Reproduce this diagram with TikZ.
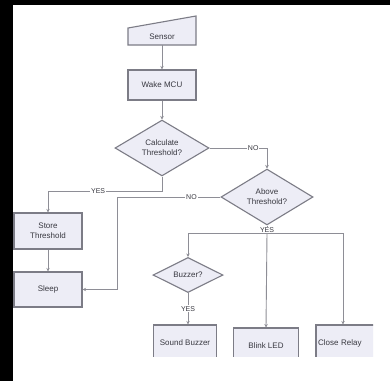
\documentclass[tikz,border=0pt]{standalone}
\usepackage{fontspec}
\setmainfont{Liberation Sans}
\usetikzlibrary{shapes.geometric,arrows.meta}
\definecolor{boxline}{HTML}{7C7C86}
\definecolor{boxfill}{HTML}{EDEDF6}
\definecolor{linec}{HTML}{8E8E96}
\definecolor{txt}{HTML}{383840}
\begin{document}
\begin{tikzpicture}[x=1pt,y=-1pt,
  fnt/.style={font=\fontsize{8}{10}\selectfont, text=txt},
  box/.style={fnt, draw=boxline, fill=boxfill, line width=1.1pt, inner sep=1pt, align=center},
  dia/.style={fnt, diamond, draw=boxline, fill=boxfill, line width=1.1pt, inner sep=0pt, align=center},
  line/.style={draw=linec, line width=0.9pt},
  arr/.style={line, -{Stealth[length=3.5pt,width=3.5pt]}},
  lbl/.style={fnt, fill=white, inner sep=1pt, font=\fontsize{7}{8}\selectfont}]
\useasboundingbox (0,0) rectangle (390,381);
\fill[white] (0,0) rectangle (390,381);
\begin{scope}
\clip (13,5) rectangle (373,356);
% sensor (manual input)
\filldraw[draw=boxline, fill=boxfill, line width=1.1pt] (128,28) -- (196,16) -- (196,45) -- (128,45) -- cycle;
\node[fnt, minimum width=68pt, minimum height=17pt, inner sep=0pt] (sensor) at (162,36.5) {Sensor};
\node[box, minimum width=68pt, minimum height=30pt] (wake) at (162,85) {Wake MCU};
\node[dia, minimum width=94pt, minimum height=40pt] (calc) at (162,148) {Calculate\\Threshold?};
\node[box, minimum width=68pt, minimum height=36pt] (store) at (48,231) {Store\\Threshold};
\node[box, minimum width=68pt, minimum height=35pt] (sleep) at (48,289.5) {Sleep};
\node[dia, minimum width=92pt, minimum height=44pt] (above) at (267,197) {Above\\Threshold?};
\node[dia, minimum width=70pt, minimum height=34pt] (buzzer) at (188,275) {Buzzer?};
\node[box, minimum width=63pt, minimum height=36pt] (sound) at (185,343) {Sound Buzzer};
\node[box, minimum width=65pt, minimum height=36pt] (led) at (266,346) {Blink LED};
\node[box, minimum width=65pt, minimum height=36pt, text width=61pt, align=left] (relay) at (348.5,343) {Close Relay};
\coordinate (nobend) at (117,197);
\coordinate (yesjoin) at (267,233);
% connectors
\draw[arr] (sensor.south) -- (wake.north);
\draw[arr] (wake.south) -- (calc.north);
\draw[arr] (calc.south) -- ++(0,15) -| node[lbl, pos=0.28] {YES} (store.north);
\draw[arr] (store.south) -- (sleep.north);
\draw[arr] (calc.east) -| node[lbl, pos=0.38] {NO} (above.north);
\draw[arr] (above.west) -- node[lbl, pos=0.28] {NO} (nobend) |- (sleep.east);
\draw[line] (above.south) -- node[lbl, pos=0.6] {YES} (yesjoin);
\draw[arr] (yesjoin) -| (buzzer.north);
\draw[arr] (yesjoin) -- (led.north);
\draw[arr] (yesjoin) -| ([xshift=-5.5pt]relay.north);
\draw[arr] (buzzer.south) -- node[lbl, pos=0.5] {YES} (buzzer.south |- sound.north);
\end{scope}
\fill[black] (0,0) rectangle (390,5);
\fill[black] (0,0) rectangle (13,381);
\end{tikzpicture}
\end{document}
